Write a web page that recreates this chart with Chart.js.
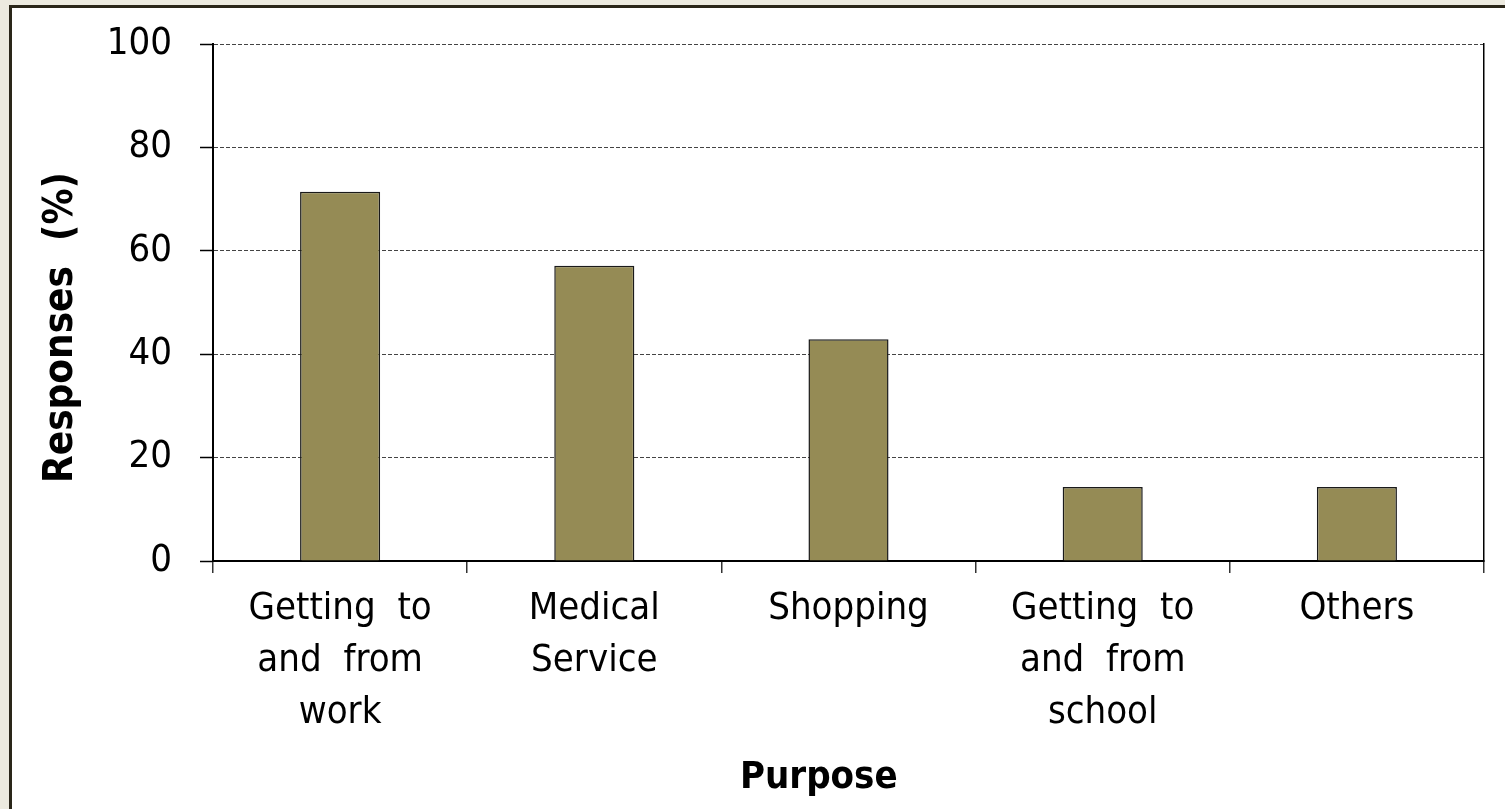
<!DOCTYPE html>
<html>
<head>
<meta charset="utf-8">
<script src="https://cdn.jsdelivr.net/npm/chart.js@4"></script>
<style>
  html, body { margin: 0; padding: 0; width: 1505px; height: 809px; overflow: hidden; background: #ECEADF; }
  #frame { position: absolute; left: 9px; top: 5px; width: 1520px; height: 830px; background: #ffffff;
           border-left: 3px solid #2a2619; border-top: 3px solid #2a2619; }
  #wrap { position: absolute; left: 0; top: 0; width: 1505px; height: 809px; }
</style>
</head>
<body>
<div id="frame"></div>
<div id="wrap"><canvas id="c" width="1505" height="809"></canvas></div>
<script>
const categories = [
  ["Getting  to", "and  from", "work"],
  ["Medical", "Service"],
  ["Shopping"],
  ["Getting  to", "and  from", "school"],
  ["Others"]
];
const responses = [71.4, 57.1, 42.9, 14.3, 14.3];
const yTicks = [0, 20, 40, 60, 80, 100];
const yTitle = "Responses  (%)    ";
const xTitle = "Purpose     ";

const FONT = "'DejaVu Sans Condensed', 'DejaVu Sans', sans-serif";

new Chart(document.getElementById('c'), {
  type: 'bar',
  data: {
    labels: categories,
    datasets: [{
      data: responses,
      backgroundColor: '#958B55',
      borderColor: '#1a1a1a',
      borderWidth: 1.5,
      barPercentage: 1,
      categoryPercentage: 0.315
    }]
  },
  options: {
    responsive: false,
    animation: false,
    layout: { padding: { left: 0, right: 21, top: 44, bottom: 0 } },
    plugins: { legend: { display: false }, tooltip: { enabled: false } },
    scales: {
      x: {
        grid: { offset: true, drawOnChartArea: false, drawTicks: true, tickLength: 12, color: '#333', lineWidth: 1.5 },
        border: { display: true, color: '#000', width: 2 },
        ticks: { color: '#000', font: { family: FONT, size: 38, lineHeight: 1.37 }, padding: 10, maxRotation: 0, autoSkip: false },
        title: { display: true, text: xTitle, color: '#000', font: { family: FONT, size: 38, weight: 'bold', lineHeight: 1.2 }, padding: { top: 0, bottom: 8 } },
        afterFit: (s) => { s.height = 248; }
      },
      y: {
        min: 0, max: 100,
        afterBuildTicks: (s) => { s.ticks = yTicks.map(v => ({ value: v })); },
        grid: { color: '#444', lineWidth: 1, drawTicks: true, tickLength: 13, tickColor: '#000', tickWidth: 1.5 },
        border: { display: true, color: '#000', width: 2, dash: [4, 2] },
        ticks: { color: '#000', font: { family: FONT, size: 38, lineHeight: 0.5 }, padding: 28 },
        title: { display: true, text: yTitle, color: '#000', font: { family: FONT, size: 40, weight: 'bold', lineHeight: 1.2 }, padding: { top: 38, bottom: 0 } },
        afterFit: (s) => { s.width = 213; }
      },
      y2: {
        position: 'right', min: 0, max: 100,
        ticks: { display: false },
        grid: { display: false, drawTicks: false },
        border: { display: true, color: '#000', width: 1.5 },
        afterFit: (s) => { s.width = 0; }
      }
    }
  }
});
</script>
</body>
</html>
